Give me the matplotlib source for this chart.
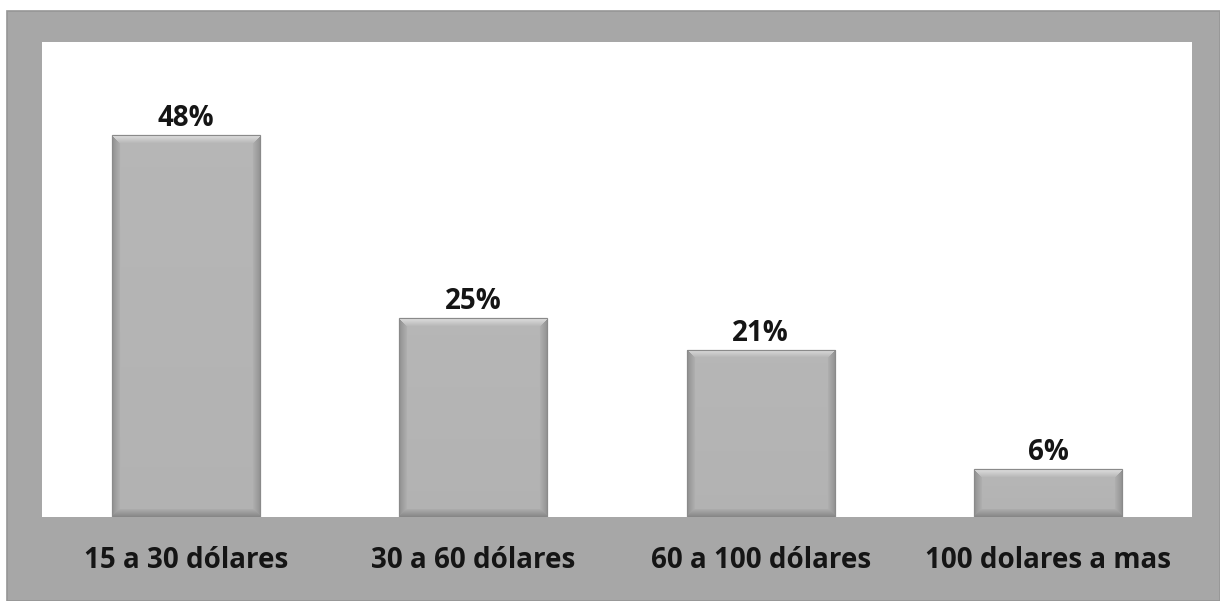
import numpy as np
import matplotlib
matplotlib.use("Agg")
import matplotlib.pyplot as plt
from matplotlib.patches import Rectangle

categories = ["15 a 30 dólares", "30 a 60 dólares", "60 a 100 dólares", "100 dolares a mas"]
values = [48, 25, 21, 6]
value_labels = ["48%", "25%", "21%", "6%"]

W, H = 1220, 601
DPI = 100
FONT = ["Open Sans", "DejaVu Sans"]
fig = plt.figure(figsize=(W / DPI, H / DPI), dpi=DPI, facecolor="white")

# gray outer frame
fig.patches.append(Rectangle((7 / W, 0), 1 - 7 / W, (H - 11) / H, transform=fig.transFigure,
                             facecolor="#a7a7a7", edgecolor="#969696", linewidth=1.2, zorder=-5))

ax = fig.add_axes([42 / W, (H - 517) / H, 1150 / W, 475 / H])
ax.set_zorder(2)
ax.set_facecolor("white")
for s in ax.spines.values():
    s.set_visible(False)

x = np.arange(len(categories))
bars = ax.bar(x, values, width=0.515, color="#b2b2b2", edgecolor="#8f8f8f", linewidth=0.8, zorder=2)
ax.set_xlim(-0.5, len(categories) - 0.5)
ax.set_ylim(0, 59.7)
ax.set_yticks([])
ax.set_xticks(x)
ax.set_xticklabels(categories, fontsize=20, fontweight="bold", family=FONT, color="#151515")
ax.tick_params(axis="x", length=0, pad=21)

# bevel shading clipped to each bar
def shade_bar(bar):
    x0, y0 = bar.get_x(), bar.get_y()
    w, h = bar.get_width(), bar.get_height()
    p0 = ax.transData.transform((x0, y0))
    p1 = ax.transData.transform((x0 + w, y0 + h))
    wp = max(int(round(p1[0] - p0[0])), 2)
    hp = max(int(round(p1[1] - p0[1])), 2)
    B = 8.0
    jj, ii = np.meshgrid(np.arange(wp) + 0.5, np.arange(hp) + 0.5)
    dt = ii
    db = hp - ii
    dl = jj
    dr = wp - jj
    img = np.full((hp, wp), 0.70)
    img += 0.015 * (1 - ii / hp)
    d = np.minimum.reduce([dt, db, dl, dr])
    inb = d < B
    near_top = inb & (dt == d)
    near_bot = inb & (db == d) & ~near_top
    near_side = inb & ~near_top & ~near_bot
    t = d / B
    img = np.where(near_top, 0.88 - 0.16 * t, img)
    img = np.where(near_bot, 0.52 + 0.16 * t, img)
    img = np.where(near_side, 0.56 + 0.13 * t, img)
    rgb = np.dstack([img, img, img])
    im = ax.imshow(rgb, extent=(x0, x0 + w, y0, y0 + h), origin="upper",
                   aspect="auto", interpolation="bilinear", zorder=3)
    im.set_clip_path(bar)

for b in bars:
    shade_bar(b)
    ax.add_patch(Rectangle((b.get_x(), b.get_y()), b.get_width(), b.get_height(),
                           fill=False, edgecolor="#8a8a8a", linewidth=0.8, zorder=4))

ax.set_xlim(-0.5, len(categories) - 0.5)
ax.set_ylim(0, 59.7)

for b, lab in zip(bars, value_labels):
    ax.annotate(lab, (b.get_x() + b.get_width() / 2, b.get_height()), xytext=(0, 1.5),
                textcoords="offset points", ha="center", va="bottom", fontsize=20,
                fontweight="bold", family=FONT, color="#151515", zorder=5)

fig.savefig("out.png", dpi=DPI, facecolor=fig.get_facecolor())
